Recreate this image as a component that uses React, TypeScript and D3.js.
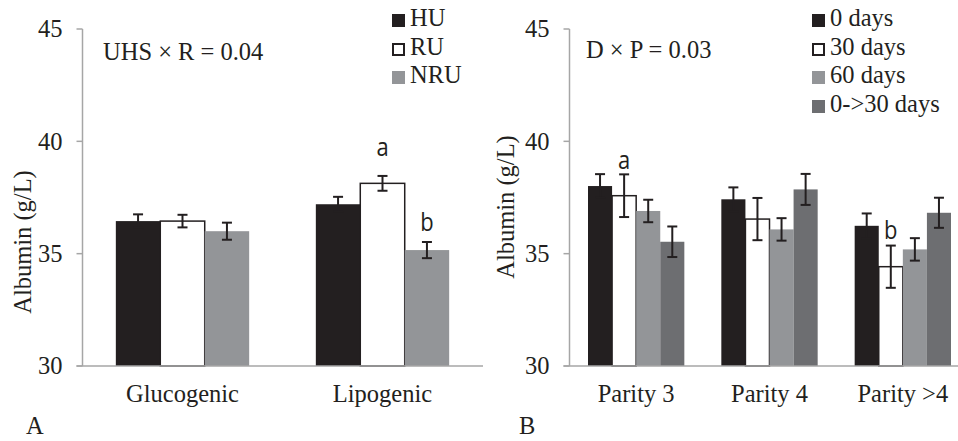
import React from "react";
import * as d3 from "d3";

const W = 958;
const H = 441;

// Panel A data
const catsA = ["Glucogenic", "Lipogenic"];
const seriesA = ["HU", "RU", "NRU"];
const valuesA = [
  [36.45, 36.45, 36.0],
  [37.2, 38.13, 35.16],
];
const errorsA = [
  [0.3, 0.28, 0.38],
  [0.33, 0.33, 0.36],
];
const lettersA = [
  ["", "", ""],
  ["", "a", "b"],
];

// Panel B data
const catsB = ["Parity 3", "Parity 4", "Parity >4"];
const seriesB = ["0 days", "30 days", "60 days", "0->30 days"];
const valuesB = [
  [38.01, 37.58, 36.9, 35.53],
  [37.42, 36.54, 36.08, 37.86],
  [36.24, 34.42, 35.19, 36.82],
];
const errorsB = [
  [0.53, 0.95, 0.5, 0.68],
  [0.53, 0.94, 0.5, 0.69],
  [0.55, 0.94, 0.5, 0.67],
];
const lettersB = [
  ["", "a", "", ""],
  ["", "", "", ""],
  ["", "b", "", ""],
];

const yTicks = [30, 35, 40, 45];

// letter gap above the error-bar cap (styling)
const letterGapA = [
  [0, 0, 0],
  [0, 20, 11],
];
const letterGapB = [
  [0, 5, 0, 0],
  [0, 0, 0, 0],
  [0, 7, 0, 0],
];

const BLACK = "#231f20";
const GRAY = "#939598";
const DARK = "#6d6e71";
const AXIS = "#a6a6a6";
const colorsA = [BLACK, "#ffffff", GRAY];
const colorsB = [BLACK, "#ffffff", GRAY, DARK];

const serif = "'Liberation Serif', 'Times New Roman', serif";
const sans = "'Open Sans', 'Noto Sans', sans-serif";
const FS = 24.5;

type PanelProps = {
  cats: string[];
  series: string[];
  values: number[][];
  errors: number[][];
  letters: string[][];
  letterGap: number[][];
  colors: string[];
  axisX: number;
  rangeEnd: number;
  lineEnd: number;
  padInner: number;
  annotation: string;
  annX: number;
  annY: number;
  legendSqX: number;
  legendRowY: number[];
  yLabelX: number;
  yLabelY: number;
  panelLabel: string;
  panelLabelX: number;
};

function Panel(p: PanelProps) {
  const y = d3.scaleLinear().domain([30, 45]).range([366, 29]);
  const x0 = d3
    .scaleBand<string>()
    .domain(p.cats)
    .range([p.axisX, p.rangeEnd])
    .paddingInner(p.padInner)
    .paddingOuter(p.padInner / 2);
  const x1 = d3
    .scaleBand<string>()
    .domain(p.series)
    .range([0, x0.bandwidth()])
    .padding(0);
  const bw = x1.bandwidth();
  const y0 = y(30);
  return (
    <g>
      {p.cats.map((c, ci) =>
        p.series.map((s, si) => {
          const v = p.values[ci][si];
          const bx = (x0(c) as number) + (x1(s) as number);
          const white = p.colors[si] === "#ffffff";
          return (
            <rect
              key={c + s}
              x={bx}
              y={y(v)}
              width={bw}
              height={y0 - y(v)}
              fill={p.colors[si]}
              stroke={white ? BLACK : "none"}
              strokeWidth={white ? 1.5 : 0}
            />
          );
        })
      )}
      {p.cats.map((c, ci) =>
        p.series.map((s, si) => {
          const v = p.values[ci][si];
          const e = p.errors[ci][si];
          const cx = (x0(c) as number) + (x1(s) as number) + bw / 2;
          const cap = 5;
          return (
            <g key={"e" + c + s} stroke={BLACK} strokeWidth={2}>
              <line x1={cx} x2={cx} y1={y(v + e)} y2={y(v - e)} />
              <line x1={cx - cap} x2={cx + cap} y1={y(v + e)} y2={y(v + e)} />
              <line x1={cx - cap} x2={cx + cap} y1={y(v - e)} y2={y(v - e)} />
            </g>
          );
        })
      )}
      {p.cats.map((c, ci) =>
        p.series.map((s, si) => {
          const l = p.letters[ci][si];
          if (!l) return null;
          const v = p.values[ci][si];
          const e = p.errors[ci][si];
          const cx = (x0(c) as number) + (x1(s) as number) + bw / 2;
          const by = y(v + e) - p.letterGap[ci][si];
          return (
            <text
              key={"l" + c + s}
              transform={`translate(${cx},${by}) scale(1,1.12)`}
              textAnchor="middle"
              fontFamily={sans}
              fontSize={22}
              fill={BLACK}
            >
              {l}
            </text>
          );
        })
      )}
      <line x1={p.axisX} x2={p.axisX} y1={y(45)} y2={y(30)} stroke={AXIS} strokeWidth={1.5} />
      <line x1={p.axisX - 6} x2={p.lineEnd} y1={y(30)} y2={y(30)} stroke={AXIS} strokeWidth={1.5} />
      {yTicks.map((t) => (
        <g key={"t" + t}>
          <line x1={p.axisX - 6} x2={p.axisX} y1={y(t)} y2={y(t)} stroke={AXIS} strokeWidth={1.5} />
          <text
            x={p.axisX - 20}
            y={y(t)}
            dy="0.34em"
            textAnchor="end"
            fontFamily={serif}
            fontSize={FS}
            fill={BLACK}
          >
            {t}
          </text>
        </g>
      ))}
      {p.cats.map((c) => (
        <text
          key={"c" + c}
          x={(x0(c) as number) + x0.bandwidth() / 2}
          y={402}
          textAnchor="middle"
          fontFamily={serif}
          fontSize={FS}
          fill={BLACK}
        >
          {c}
        </text>
      ))}
      <text
        transform={`translate(${p.yLabelX},${p.yLabelY}) rotate(-90)`}
        textAnchor="middle"
        fontFamily={serif}
        fontSize={FS}
        fill={BLACK}
      >
        Albumin (g/L)
      </text>
      <text x={p.annX} y={p.annY} fontFamily={serif} fontSize={FS} fill={BLACK}>
        {p.annotation}
      </text>
      {p.series.map((s, si) => {
        const white = p.colors[si] === "#ffffff";
        const ry = p.legendRowY[si];
        return (
          <g key={"lg" + s}>
            <rect
              x={p.legendSqX + (white ? 1 : 0)}
              y={ry - 12 + (white ? 1 : 0)}
              width={white ? 11 : 13}
              height={white ? 11 : 13}
              fill={p.colors[si]}
              stroke={white ? BLACK : "none"}
              strokeWidth={white ? 2 : 0}
            />
            <text x={p.legendSqX + 18} y={ry} fontFamily={serif} fontSize={FS} fill={BLACK}>
              {s}
            </text>
          </g>
        );
      })}
      <text x={p.panelLabelX} y={434} fontFamily={serif} fontSize={FS} fill={BLACK}>
        {p.panelLabel}
      </text>
    </g>
  );
}

export default function App() {
  return (
    <svg width={W} height={H} style={{ position: "absolute", left: 0, top: 0, background: "#fff" }}>
      <rect width={W} height={H} fill="#fff" />
      <Panel
        cats={catsA}
        series={seriesA}
        values={valuesA}
        errors={errorsA}
        letters={lettersA}
        letterGap={letterGapA}
        colors={colorsA}
        axisX={82.5}
        rangeEnd={482.5}
        lineEnd={483}
        padInner={1 / 3}
        annotation="UHS × R = 0.04"
        annX={103}
        annY={60}
        legendSqX={392}
        legendRowY={[26, 55, 83]}
        yLabelX={31}
        yLabelY={242}
        panelLabel="A"
        panelLabelX={26}
      />
      <Panel
        cats={catsB}
        series={seriesB}
        values={valuesB}
        errors={errorsB}
        letters={lettersB}
        letterGap={letterGapB}
        colors={colorsB}
        axisX={569.5}
        rangeEnd={969.5}
        lineEnd={958}
        padInner={0.2775}
        annotation="D × P = 0.03"
        annX={586}
        annY={58}
        legendSqX={812}
        legendRowY={[26, 55, 83, 112]}
        yLabelX={514}
        yLabelY={207}
        panelLabel="B"
        panelLabelX={519}
      />
    </svg>
  );
}
